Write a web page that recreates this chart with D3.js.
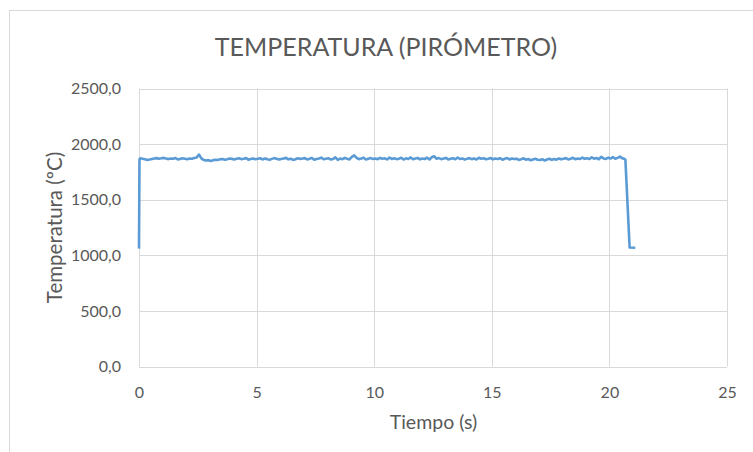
<!DOCTYPE html>
<html lang="es">
<head>
<meta charset="UTF-8">
<title>Temperatura (pirómetro)</title>
<script src="https://d3js.org/d3.v7.min.js"></script>
<style>
  body { margin: 0; background: #fff; }
  text { font-family: Lato, "Open Sans", sans-serif; fill: #595959; }
  .grid line { stroke: #d9d9d9; stroke-width: 1px; }
  .line { fill: none; stroke: #5b9bd5; stroke-width: 2.6px; stroke-linejoin: round; }
</style>
</head>
<body>
<script>
// ticks
const xTicks = [0, 5, 10, 15, 20, 25];
const yTicks = [0, 500, 1000, 1500, 2000, 2500];

// start of the record (s, ºC)
const startPoints = [[0, 1060], [0.02, 1862]];

// plateau: one reading every 0.1 s from 0.05 s
const plateauStart = 0.05, plateauStep = 0.1;
const plateau = [
  1872,1868,1864,1858,1861,1866,1870,1874,1869,1872,
  1876,1870,1865,1871,1868,1874,1862,1867,1873,1869,
  1864,1871,1868,1875,1879,1906,1872,1858,1852,1856,
  1848,1854,1860,1857,1863,1866,1859,1864,1870,1867,
  1862,1868,1873,1865,1869,1874,1860,1866,1871,1864,
  1868,1873,1862,1870,1865,1858,1867,1874,1869,1861,
  1866,1871,1876,1863,1869,1858,1864,1872,1867,1870,
  1874,1862,1868,1876,1859,1866,1871,1878,1864,1869,
  1873,1861,1867,1880,1858,1870,1864,1876,1868,1862,
  1885,1898,1876,1864,1870,1878,1862,1868,1874,1866,
  1870,1864,1876,1868,1872,1862,1879,1867,1873,1865,
  1869,1877,1861,1872,1866,1880,1864,1870,1875,1863,
  1871,1866,1878,1862,1882,1891,1868,1874,1865,1870,
  1876,1861,1868,1873,1864,1879,1866,1871,1860,1869,
  1874,1865,1870,1862,1877,1868,1872,1864,1869,1875,
  1863,1870,1866,1873,1860,1868,1875,1862,1871,1866,
  1869,1858,1864,1872,1860,1866,1855,1862,1868,1859,
  1857,1864,1852,1861,1868,1858,1866,1860,1871,1863,
  1869,1874,1862,1868,1877,1864,1870,1866,1879,1868,
  1872,1866,1881,1869,1875,1864,1885,1871,1867,1878,
  1870,1883,1868,1876,1887,1872,1866
];

// cool-down at the end (s, ºC)
const endPoints = [[20.68, 1858], [20.86, 1070], [21.1, 1068]];

const data = startPoints
  .concat(plateau.map((v, i) => [plateauStart + i * plateauStep, v]))
  .concat(endPoints);

const W = 753, H = 452;
const margin = {top: 88.5, right: 26, bottom: 85.5, left: 139};

const svg = d3.select("body").append("svg")
  .attr("width", W)
  .attr("height", H);

// chart border
svg.append("rect")
  .attr("x", 9.5).attr("y", 10.5)
  .attr("width", W + 20).attr("height", H + 20)
  .attr("fill", "#fff")
  .attr("stroke", "#d9d9d9");

const x = d3.scaleLinear().domain([0, 25]).range([margin.left, W - margin.right]);
const y = d3.scaleLinear().domain([0, 2500]).range([H - margin.bottom, margin.top]);

// gridlines
const grid = svg.append("g").attr("class", "grid");
grid.selectAll(".gx").data(xTicks).enter().append("line")
  .attr("x1", d => Math.round(x(d)) + 0.5).attr("x2", d => Math.round(x(d)) + 0.5)
  .attr("y1", y(0)).attr("y2", y(2500));
grid.selectAll(".gy").data(yTicks).enter().append("line")
  .attr("x1", x(0)).attr("x2", x(25))
  .attr("y1", d => Math.round(y(d)) + 0.5).attr("y2", d => Math.round(y(d)) + 0.5);

// axes (labels only)
const fmt = d => d3.format(".1f")(d).replace(".", ",");
const yAxis = svg.append("g")
  .attr("transform", `translate(${x(0) - 15},0)`)
  .call(d3.axisLeft(y).tickValues(yTicks).tickFormat(fmt).tickSize(0));
const xAxis = svg.append("g")
  .attr("transform", `translate(0,${y(0) + 17})`)
  .call(d3.axisBottom(x).tickValues(xTicks).tickSize(0));
[yAxis, xAxis].forEach(a => {
  a.select(".domain").remove();
  a.selectAll("text").style("font-size", "16px").attr("fill", "#595959")
    .style("font-family", "Lato, 'Open Sans', sans-serif");
});

// series
svg.append("path")
  .datum(data)
  .attr("class", "line")
  .attr("d", d3.line().x(d => x(d[0])).y(d => y(d[1])));

// titles
svg.append("text")
  .attr("x", 386).attr("y", 56)
  .attr("text-anchor", "middle")
  .style("font-size", "25px")
  .text("TEMPERATURA (PIRÓMETRO)");

svg.append("text")
  .attr("x", (x(0) + x(25)) / 2 + 0.5).attr("y", 429)
  .attr("text-anchor", "middle")
  .style("font-size", "19.5px")
  .text("Tiempo (s)");

svg.append("text")
  .attr("transform", `translate(62,${(y(0) + y(2500)) / 2}) rotate(-90)`)
  .attr("text-anchor", "middle")
  .style("font-size", "20.5px")
  .text("Temperatura (ºC)");
</script>
</body>
</html>
